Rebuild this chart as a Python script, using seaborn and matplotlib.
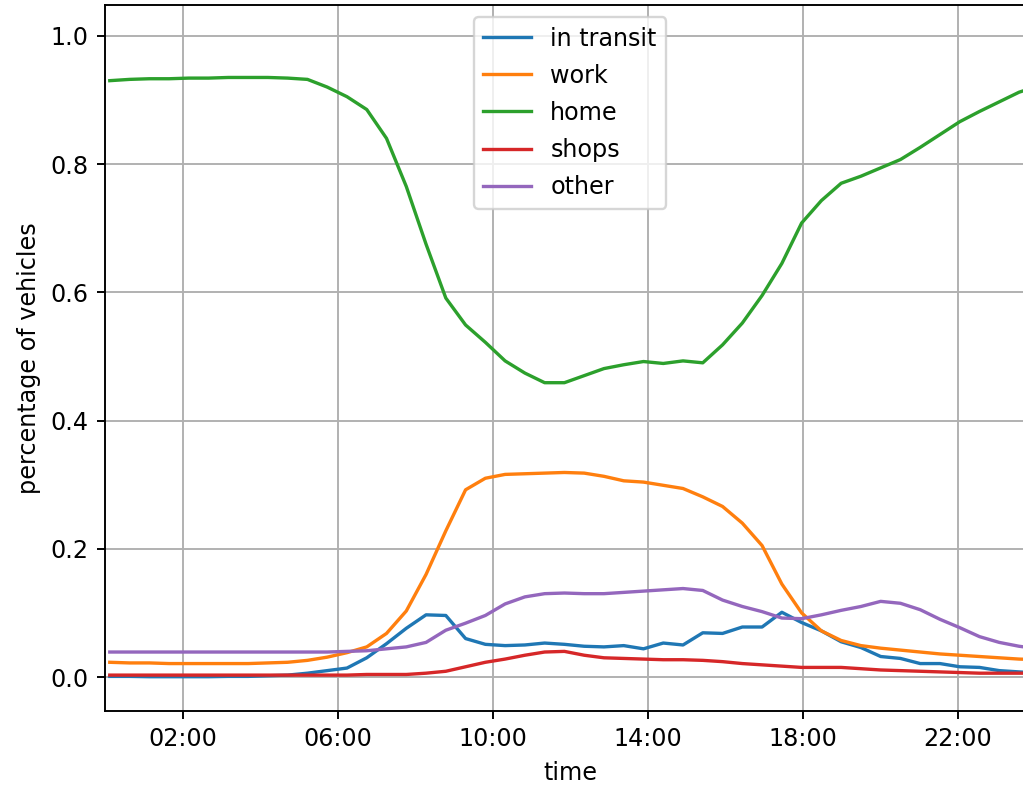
import matplotlib
matplotlib.use("Agg")
import matplotlib.pyplot as plt
import matplotlib.dates as mdates
import numpy as np
import pandas as pd
import seaborn as sns

# Sampling times (48 bins over the day)
times = pd.date_range(start="2020-01-01 00:07:24", periods=48, freq="1836s")

in_transit = [0.001, 0.001, 0.0005, 0.0005, 0.0005, 0.0005, 0.001, 0.001, 0.002, 0.003,
              0.006, 0.010, 0.014, 0.030, 0.052, 0.076, 0.097, 0.096, 0.060, 0.051,
              0.049, 0.050, 0.053, 0.051, 0.048, 0.047, 0.049, 0.044, 0.053, 0.050,
              0.069, 0.068, 0.078, 0.078, 0.101, 0.085, 0.072, 0.055, 0.046, 0.032,
              0.029, 0.021, 0.021, 0.016, 0.015, 0.010, 0.008, 0.006]

work = [0.023, 0.022, 0.022, 0.021, 0.021, 0.021, 0.021, 0.021, 0.022, 0.023,
        0.026, 0.031, 0.038, 0.047, 0.068, 0.103, 0.160, 0.228, 0.292, 0.310,
        0.316, 0.317, 0.318, 0.319, 0.318, 0.313, 0.306, 0.304, 0.299, 0.294,
        0.281, 0.266, 0.240, 0.205, 0.145, 0.100, 0.072, 0.057, 0.049, 0.045,
        0.042, 0.039, 0.036, 0.034, 0.032, 0.030, 0.028, 0.027]

home = [0.930, 0.932, 0.933, 0.933, 0.934, 0.934, 0.935, 0.935, 0.935, 0.934,
        0.932, 0.920, 0.905, 0.885, 0.840, 0.765, 0.675, 0.591, 0.549, 0.522,
        0.493, 0.474, 0.459, 0.459, 0.470, 0.481, 0.487, 0.492, 0.489, 0.493,
        0.490, 0.518, 0.552, 0.595, 0.645, 0.708, 0.743, 0.770, 0.781, 0.794,
        0.807, 0.826, 0.846, 0.866, 0.882, 0.897, 0.912, 0.922]

shops = [0.003, 0.003, 0.003, 0.003, 0.003, 0.003, 0.003, 0.003, 0.003, 0.003,
         0.003, 0.003, 0.003, 0.004, 0.004, 0.004, 0.006, 0.009, 0.016, 0.023,
         0.028, 0.034, 0.039, 0.040, 0.034, 0.030, 0.029, 0.028, 0.027, 0.027,
         0.026, 0.024, 0.021, 0.019, 0.017, 0.015, 0.015, 0.015, 0.013, 0.011,
         0.010, 0.009, 0.008, 0.007, 0.006, 0.006, 0.006, 0.006]

other = [0.039, 0.039, 0.039, 0.039, 0.039, 0.039, 0.039, 0.039, 0.039, 0.039,
         0.039, 0.039, 0.040, 0.041, 0.044, 0.047, 0.054, 0.073, 0.084, 0.096,
         0.114, 0.125, 0.130, 0.131, 0.130, 0.130, 0.132, 0.134, 0.136, 0.138,
         0.135, 0.120, 0.110, 0.102, 0.092, 0.091, 0.097, 0.104, 0.110, 0.118,
         0.115, 0.105, 0.090, 0.077, 0.063, 0.054, 0.048, 0.044]

categories = ["in transit", "work", "home", "shops", "other"]
series = [in_transit, work, home, shops, other]

df = pd.concat(
    [pd.DataFrame({"time": times, "share": vals, "location": name})
     for name, vals in zip(categories, series)],
    ignore_index=True,
)

W, H, DPI = 1023, 785, 172
fig = plt.figure(figsize=(W / DPI, H / DPI), dpi=DPI)
ax = fig.add_axes([105 / W, 74.3 / H, 930.2 / W, 705.7 / H])

sns.lineplot(data=df, x="time", y="share", hue="location",
             hue_order=categories, palette="tab10", linewidth=1.4, ax=ax)

ax.set_xlim(pd.Timestamp("2020-01-01 00:00"), pd.Timestamp("2020-01-02 00:00"))
ax.set_ylim(-0.0525, 1.048)
ax.xaxis.set_major_locator(mdates.HourLocator(byhour=[2, 6, 10, 14, 18, 22]))
ax.xaxis.set_major_formatter(mdates.DateFormatter("%H:%M"))
ax.set_xlabel("time")
ax.set_ylabel("percentage of vehicles")
ax.grid(True)
ax.legend(loc="upper center", labelspacing=0.55)

fig.savefig("out.png", dpi=DPI)
